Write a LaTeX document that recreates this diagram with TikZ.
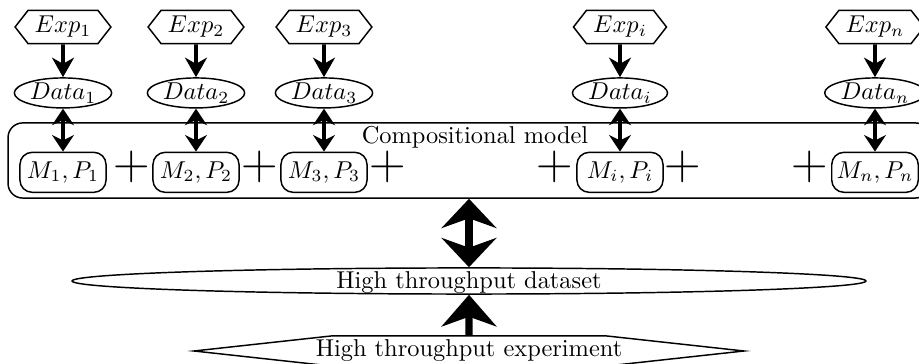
\documentclass[tikz,border=0pt]{standalone}
\usepackage{tikz}
\usetikzlibrary{arrows.meta, positioning, shapes.geometric, shapes.symbols}

\begin{document}
\begin{tikzpicture}[
    x=0.41pt, y=-0.41pt,
    expbox/.style={draw, semithick, signal, signal to=east and west,
                   signal pointer angle=104, inner xsep=2.75pt, inner ysep=2.4pt},
    databox/.style={draw, semithick, ellipse, inner xsep=0.5pt, inner ysep=0pt,
                    minimum width=39pt, minimum height=12.3pt},
    mpbox/.style={draw, semithick, rounded corners=5pt, minimum width=35.3pt,
                  minimum height=16.4pt, inner sep=2pt},
    modelbox/.style={draw, semithick, rounded corners=6pt, minimum width=378pt,
                     minimum height=30.8pt},
    plussign/.style={font=\huge, inner sep=0pt},
    setbox/.style={draw, semithick, ellipse, minimum width=325.5pt,
                   minimum height=10.7pt, inner sep=0pt, text height=6.5pt,
                   text depth=0pt},
    hexpbox/.style={draw, semithick, signal, signal to=east and west,
                    signal pointer angle=12.5, inner xsep=-6.7pt, inner ysep=1.7pt},
    arr/.style={-{Stealth[length=8pt, width=9pt, inset=2.5pt]}, ultra thick},
    darr/.style={{Stealth[length=6.8pt, width=9pt, inset=2.2pt]}-{Stealth[length=6.8pt, width=9pt, inset=2.2pt]},
                 ultra thick},
    bigarr/.style={-{Stealth[length=13pt, width=22.5pt, inset=4pt]}, line width=3pt},
    bigdarr/.style={{Stealth[length=12pt, width=22.5pt, inset=4pt]}-{Stealth[length=12pt, width=22.5pt, inset=4pt]},
                    line width=3pt}
]
\useasboundingbox (0,0) rectangle (919,364);

\node[expbox] (exp1) at (63,27) {$Exp_1$};
\node[expbox] (exp2) at (196,27) {$Exp_2$};
\node[expbox] (exp3) at (324,27) {$Exp_3$};
\node[expbox] (expi) at (620,27) {$Exp_i$};
\node[expbox] (expn) at (875,27) {$Exp_n$};

\node[databox, below=13.5pt of exp1] (data1) {$Data_1$};
\node[databox, below=13.5pt of exp2] (data2) {$Data_2$};
\node[databox, below=13.5pt of exp3] (data3) {$Data_3$};
\node[databox, below=13.5pt of expi] (datai) {$Data_i$};
\node[databox, below=13.5pt of expn] (datan) {$Data_n$};

\node[mpbox, below=17.6pt of data1] (m1) {$M_1, P_1$};
\node[mpbox, below=17.6pt of data2] (m2) {$M_2, P_2$};
\node[mpbox, below=17.6pt of data3] (m3) {$M_3, P_3$};
\node[mpbox, below=17.6pt of datai] (mi) {$M_i, P_i$};
\node[mpbox, below=17.6pt of datan] (mn) {$M_n, P_n$};

\node[modelbox] (cm) at (469,160.5) {};
\node[inner sep=0pt] (cmlabel) at (475,137) {Compositional model};

\node[plussign] (plus1) at (132,167) {$+$};
\node[plussign] (plus2) at (260,167) {$+$};
\node[plussign] (plus3) at (388,167) {$+$};
\node[plussign] (plus4) at (555,167) {$+$};
\node[plussign] (plus5) at (683,167) {$+$};
\node[plussign] (plus6) at (810,167) {$+$};

\node[setbox] (hds) at (469,281) {High throughput dataset};
\node[hexpbox] (hte) at (469,351) {High throughput experiment};

\draw[arr] (exp1) -- (data1);
\draw[arr] (exp2) -- (data2);
\draw[arr] (exp3) -- (data3);
\draw[arr] (expi) -- (datai);
\draw[arr] (expn) -- (datan);

\draw[darr] (data1) -- (m1);
\draw[darr] (data2) -- (m2);
\draw[darr] (data3) -- (m3);
\draw[darr] (datai) -- (mi);
\draw[darr] (datan) -- (mn);

\draw[bigdarr] (cm) -- (hds);
\draw[bigarr] (hte) -- (hds);
\end{tikzpicture}
\end{document}
